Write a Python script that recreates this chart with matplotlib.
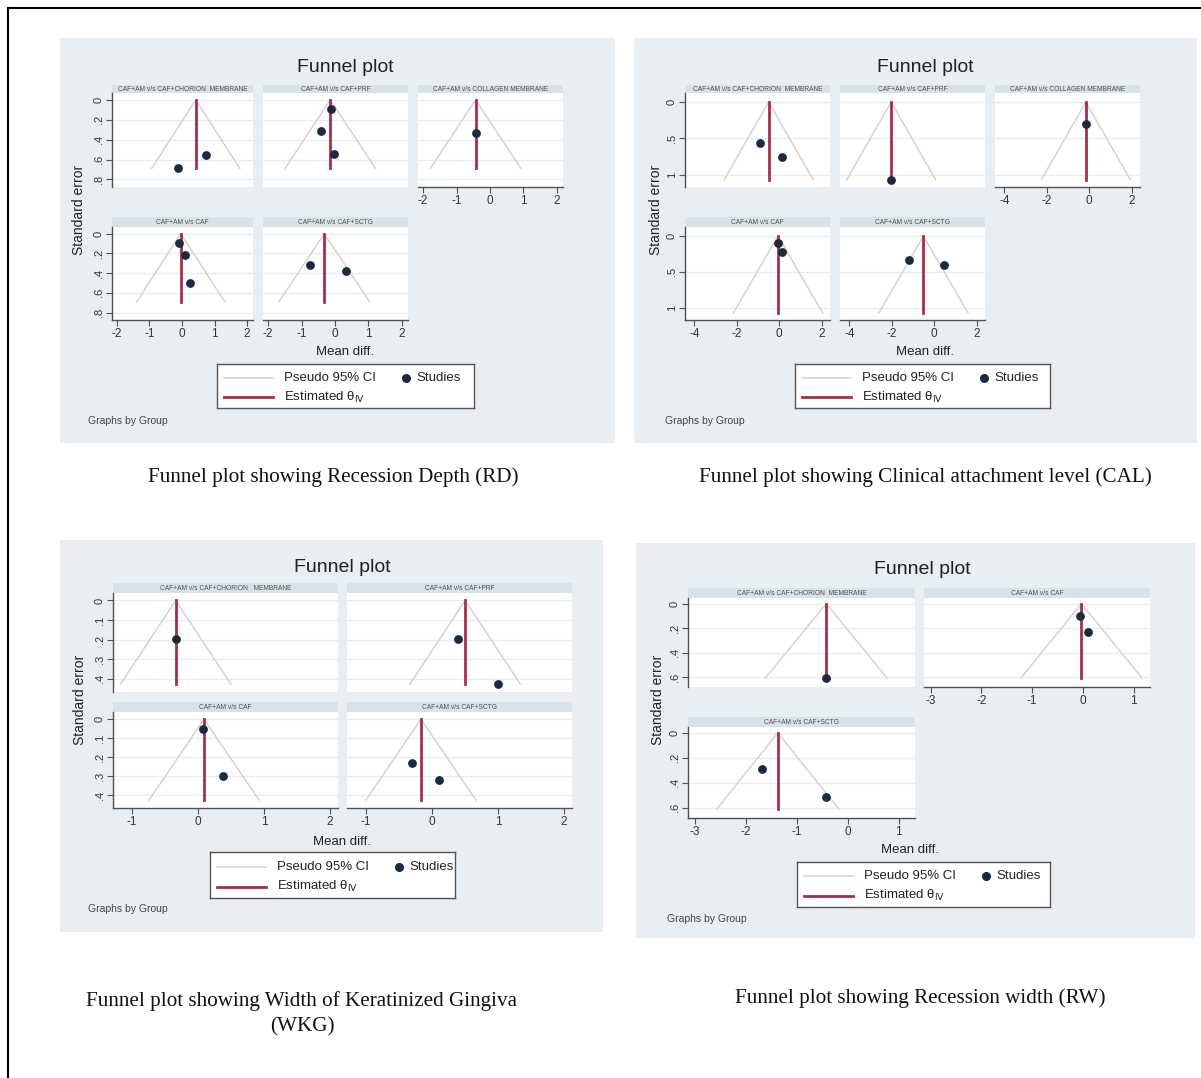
import matplotlib
matplotlib.use("Agg")
import matplotlib.pyplot as plt
from matplotlib.patches import Rectangle
from matplotlib.lines import Line2D

# ---------------- data ----------------
RD_groups = ["CAF+AM v/s CAF+CHORION  MEMBRANE", "CAF+AM v/s CAF+PRF",
             "CAF+AM v/s COLLAGEN MEMBRANE", "CAF+AM v/s CAF", "CAF+AM v/s CAF+SCTG"]
RD_theta = [0.42, -0.14, -0.43, -0.04, -0.32]
RD_md = [[0.75, -0.12], [-0.12, -0.41, -0.02], [-0.43], [-0.09, 0.10, 0.24], [-0.76, 0.34]]
RD_se = [[0.555, 0.69], [0.093, 0.31, 0.54], [0.33], [0.092, 0.22, 0.50], [0.32, 0.38]]
RD_semax = 0.69
RD_xticks = [-2, -1, 0, 1, 2]
RD_yticks = [0, 0.2, 0.4, 0.6, 0.8]
RD_ylabels = ["0", ".2", ".4", ".6", ".8"]

CAL_groups = ["CAF+AM v/s CAF+CHORION  MEMBRANE", "CAF+AM v/s CAF+PRF",
              "CAF+AM v/s COLLAGEN MEMBRANE", "CAF+AM v/s CAF", "CAF+AM v/s CAF+SCTG"]
CAL_theta = [-0.50, -2.03, -0.16, -0.06, -0.51]
CAL_md = [[-0.89, 0.14], [-2.03], [-0.16], [-0.08, 0.14], [-1.19, 0.48]]
CAL_se = [[0.558, 0.76], [1.07], [0.304], [0.10, 0.22], [0.33, 0.40]]
CAL_semax = 1.07
CAL_xticks = [-4, -2, 0, 2]
CAL_yticks = [0, 0.5, 1.0]
CAL_ylabels = ["0", ".5", "1"]

WKG_groups = ["CAF+AM v/s CAF+CHORION   MEMBRANE", "CAF+AM v/s CAF+PRF",
              "CAF+AM v/s CAF", "CAF+AM v/s CAF+SCTG"]
WKG_theta = [-0.34, 0.50, 0.09, -0.17]
WKG_md = [[-0.34], [0.39, 1.00], [0.08, 0.38], [-0.31, 0.10]]
WKG_se = [[0.198], [0.198, 0.427], [0.05, 0.30], [0.23, 0.32]]
WKG_semax = 0.427
WKG_xticks = [-1, 0, 1, 2]
WKG_yticks = [0, 0.1, 0.2, 0.3, 0.4]
WKG_ylabels = ["0", ".1", ".2", ".3", ".4"]

RW_groups = ["CAF+AM v/s CAF+CHORION  MEMBRANE", "CAF+AM v/s CAF", "CAF+AM v/s CAF+SCTG"]
RW_theta = [-0.42, -0.03, -1.37]
RW_md = [[-0.42], [-0.06, 0.10], [-1.67, -0.43]]
RW_se = [[0.61], [0.10, 0.23], [0.29, 0.51]]
RW_semax = 0.61
RW_xticks = [-3, -2, -1, 0, 1]
RW_yticks = [0, 0.2, 0.4, 0.6]
RW_ylabels = ["0", ".2", ".4", ".6"]

legend_labels = ["Pseudo 95% CI", "Studies", "Estimated θ$_{\\mathrm{IV}}$"]

captions = ["Funnel plot showing Recession Depth (RD)",
            "Funnel plot showing Clinical attachment level (CAL)",
            "Funnel plot showing Width of Keratinized Gingiva\n(WKG)",
            "Funnel plot showing Recession width (RW)"]

# ---------------- style ----------------
W, H = 1201, 1078
BG = "#e8eef1"
STRIP = "#d9e2e7"
GRID = "#e7ecef"
CI = "#dccfd0"
EST = "#a3304a"
DOT = "#1b2a3f"
AXC = "#505050"
SANS = ["Liberation Sans", "DejaVu Sans"]
SERIF = ["Liberation Serif", "DejaVu Serif"]
plt.rcParams["font.family"] = SANS

fig = plt.figure(figsize=(W / 100, H / 100), dpi=100)
fig.patch.set_facecolor("white")


def pbox(x0, y0, x1, y1):
    return [x0 / W, 1 - y1 / H, (x1 - x0) / W, (y1 - y0) / H]


def frect(x0, y0, x1, y1, **kw):
    r = Rectangle((x0 / W, 1 - y1 / H), (x1 - x0) / W, (y1 - y0) / H,
                  transform=fig.transFigure, **kw)
    fig.add_artist(r)


def ftext(x, y, s, **kw):
    fig.text(x / W, 1 - y / H, s, **kw)


def subplot(x0, x1, yh0, yp0, yp1, title, md, se, theta, semax,
            xlim, xticks, ylim, yticks, ylabels, show_x, show_y):
    frect(x0, yh0, x1, yp0, facecolor=STRIP, edgecolor="none", zorder=-5)
    ftext((x0 + x1) / 2, (yh0 + yp0) / 2 + 0.5, title, fontsize=4.8, color="#505050",
          ha="center", va="center")
    ax = fig.add_axes(pbox(x0, yp0, x1, yp1))
    ax.set_facecolor("white")
    ax.set_xlim(xlim)
    ax.set_ylim(ylim[1], ylim[0])
    for yt in yticks:
        ax.axhline(yt, color=GRID, lw=0.9, zorder=0)
    ax.plot([theta - 1.96 * semax, theta, theta + 1.96 * semax], [semax, 0, semax],
            color=CI, lw=1.1, zorder=1)
    ax.plot([theta, theta], [0, semax], color=EST, lw=2.0, zorder=2)
    ax.scatter(md, se, s=40, color=DOT, zorder=3, linewidths=0)
    for sp in ax.spines.values():
        sp.set_visible(False)
    ax.set_yticks(yticks)
    ax.set_xticks(xticks)
    if show_y:
        ax.spines["left"].set_visible(True)
        ax.spines["left"].set_color(AXC)
        ax.spines["left"].set_linewidth(1.0)
        ax.set_yticklabels(ylabels, rotation=90, va="center", fontsize=8, color="#333333")
        ax.tick_params(axis="y", length=4, width=0.8, color=AXC, pad=2)
    else:
        ax.tick_params(axis="y", left=False, labelleft=False)
    if show_x:
        ax.spines["bottom"].set_visible(True)
        ax.spines["bottom"].set_color(AXC)
        ax.spines["bottom"].set_linewidth(1.0)
        ax.set_xticklabels([str(t) for t in xticks], fontsize=8.5, color="#333333")
        ax.tick_params(axis="x", length=4, width=0.8, color=AXC, pad=2)
    else:
        ax.tick_params(axis="x", bottom=False, labelbottom=False)
    return ax


def legend_box(x0, y0, x1, y1):
    w, h = x1 - x0, y1 - y0
    lax = fig.add_axes(pbox(x0, y0, x1, y1))
    lax.set_xlim(0, w)
    lax.set_ylim(h, 0)
    lax.set_xticks([])
    lax.set_yticks([])
    lax.set_facecolor("white")
    for sp in lax.spines.values():
        sp.set_color("#555555")
        sp.set_linewidth(1.0)
    r1, r2 = 0.32 * h, 0.75 * h
    lax.plot([7, 56], [r1, r1], color=CI, lw=1.1)
    lax.plot([7, 56], [r2, r2], color=EST, lw=2.0)
    lax.plot([189], [r1], marker="o", color=DOT, markersize=5.5, ls="none")
    lax.text(67, r1, legend_labels[0], fontsize=9.5, color="#222222", va="center", ha="left")
    lax.text(199, r1, legend_labels[1], fontsize=9.5, color="#222222", va="center", ha="left")
    lax.text(67, r2, legend_labels[2], fontsize=9.5, color="#222222", va="center", ha="left")


def panel(bg, title_xy, ylab_xy, mdiff_xy, leg, gbg_xy):
    frect(*bg, facecolor=BG, edgecolor="none", zorder=-10)
    ftext(*title_xy, "Funnel plot", fontsize=14, color="#222222", ha="center", va="center")
    ftext(*ylab_xy, "Standard error", fontsize=10, color="#222222", ha="center",
          va="center", rotation=90)
    ftext(*mdiff_xy, "Mean diff.", fontsize=9.5, color="#222222", ha="center", va="center")
    legend_box(*leg)
    ftext(*gbg_xy, "Graphs by Group", fontsize=7.5, color="#444444", ha="left", va="center")


# ---------------- Panel 1: RD ----------------
panel((60, 38, 615, 443), (345, 67), (79, 210), (345, 352), (217, 364, 474, 408), (88, 421))
cols = [(112, 253), (263, 408), (418, 563)]
rows = [(85, 93, 187), (217, 227, 320)]
pos = [(0, 0), (0, 1), (0, 2), (1, 0), (1, 1)]
for i, (r, c) in enumerate(pos):
    subplot(cols[c][0], cols[c][1], *rows[r], RD_groups[i], RD_md[i], RD_se[i],
            RD_theta[i], RD_semax, (-2.15, 2.18), RD_xticks, (-0.069, 0.876),
            RD_yticks, RD_ylabels, show_x=(r == 1 or c == 2), show_y=(c == 0))

# ---------------- Panel 2: CAL ----------------
panel((634, 38, 1197, 443), (925, 67), (656, 210), (925, 352), (795, 364, 1050, 408), (665, 421))
cols = [(685, 830), (840, 985), (995, 1140)]
for i, (r, c) in enumerate(pos):
    subplot(cols[c][0], cols[c][1], *rows[r], CAL_groups[i], CAL_md[i], CAL_se[i],
            CAL_theta[i], CAL_semax, (-4.44, 2.39), CAL_xticks, (-0.125, 1.17),
            CAL_yticks, CAL_ylabels, show_x=(r == 1 or c == 2), show_y=(c == 0))

# ---------------- Panel 3: WKG ----------------
panel((60, 540, 603, 932), (342, 567), (80, 700), (342, 842), (210, 852, 455, 898), (88, 909))
cols = [(113, 338), (347, 572)]
rows = [(583, 593, 692), (702, 712, 808)]
pos = [(0, 0), (0, 1), (1, 0), (1, 1)]
for i, (r, c) in enumerate(pos):
    subplot(cols[c][0], cols[c][1], *rows[r], WKG_groups[i], WKG_md[i], WKG_se[i],
            WKG_theta[i], WKG_semax, (-1.29, 2.12), WKG_xticks, (-0.038, 0.467),
            WKG_yticks, WKG_ylabels, show_x=(r == 1), show_y=(c == 0))

# ---------------- Panel 4: RW ----------------
panel((636, 543, 1195, 938), (922, 570), (658, 700), (910, 850), (797, 862, 1050, 907), (667, 919))
cols = [(688, 915), (924, 1150)]
rows = [(588, 598, 687), (717, 727, 818)]
pos = [(0, 0), (0, 1), (1, 0)]
for i, (r, c) in enumerate(pos):
    subplot(cols[c][0], cols[c][1], *rows[r], RW_groups[i], RW_md[i], RW_se[i],
            RW_theta[i], RW_semax, (-3.13, 1.32), RW_xticks, (-0.047, 0.682),
            RW_yticks, RW_ylabels, show_x=(r == 1 or c == 1), show_y=(c == 0))

# ---------------- captions ----------------
CAP = 15.2
ftext(333, 477, captions[0], fontsize=CAP, family=SERIF, ha="center", va="center", color="#111111")
ftext(925, 477, captions[1], fontsize=CAP, family=SERIF, ha="center", va="center", color="#111111")
ftext(302, 1014, captions[2], fontsize=CAP, family=SERIF, ha="center", va="center",
      color="#111111", linespacing=1.45)
ftext(920, 998, captions[3], fontsize=CAP, family=SERIF, ha="center", va="center", color="#111111")

# outer border (left and top)
fig.add_artist(Line2D([7.5 / W, 7.5 / W], [0, 1 - 7.5 / H], transform=fig.transFigure,
                      color="black", lw=1.5))
fig.add_artist(Line2D([7.5 / W, 1], [1 - 7.5 / H, 1 - 7.5 / H], transform=fig.transFigure,
                      color="black", lw=1.5))

fig.savefig("out.png", dpi=100, facecolor="white")
